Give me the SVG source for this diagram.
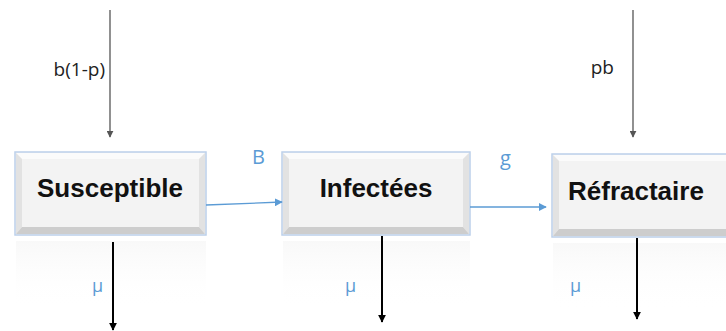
<svg xmlns="http://www.w3.org/2000/svg" width="726" height="331" viewBox="0 0 726 331">
<style>
.frame{fill:#f4f4f4;stroke:#bcd0ea;stroke-width:1.5}
.face{fill:#f3f3f3}
.bevB{fill:#cdcdcd}
.bevS{fill:#e2e2e2}
.bevT{fill:#fbfbfb}
.lbl{font-family:"Liberation Sans",Arial,sans-serif;font-weight:bold;font-size:26px;fill:#111}
.rate{font-family:"Open Sans","Liberation Sans",sans-serif;font-size:19px;fill:#222}
.blue{font-family:"Open Sans","Liberation Sans",sans-serif;font-size:20px;fill:#5b9bd5}
.mu{font-family:"Open Sans","Liberation Sans",sans-serif;font-size:18px;fill:#5b9bd5}
.refl{fill:url(#rg)}
.gray{stroke:#555;stroke-width:1.3;fill:none}
.blk{stroke:#000;stroke-width:2;fill:none}
.bl{stroke:#5b9bd5;stroke-width:1.3;fill:none}
</style>
<defs>
<linearGradient id="rg" x1="0" y1="0" x2="0" y2="1">
<stop offset="0" stop-color="#f4f4f4" stop-opacity="0.6"/>
<stop offset="1" stop-color="#ffffff" stop-opacity="0"/>
</linearGradient>
<marker id="ag" viewBox="0 0 10 10" refX="9" refY="5" markerWidth="7" markerHeight="7" markerUnits="userSpaceOnUse" orient="auto"><path d="M0,0 L10,5 L0,10 z" fill="#555"/></marker>
<marker id="ak" viewBox="0 0 10 10" refX="9" refY="5" markerWidth="8" markerHeight="8" markerUnits="userSpaceOnUse" orient="auto"><path d="M0,0 L10,5 L0,10 z" fill="#000"/></marker>
<marker id="ab" viewBox="0 0 10 10" refX="9" refY="5" markerWidth="8" markerHeight="8" markerUnits="userSpaceOnUse" orient="auto"><path d="M0,0 L10,5 L0,10 z" fill="#5b9bd5"/></marker>
</defs>

<g id="susceptible">
<rect class="refl" x="16" y="241" width="190" height="68"/>
<rect class="frame" x="15" y="152" width="191" height="83"/>
<polygon class="bevT" points="16,153 205,153 199,159 22,159"/>
<polygon class="bevS" points="16,153 22,159 22,227 16,234"/>
<polygon class="bevS" points="205,153 199,159 199,227 205,234"/>
<polygon class="bevB" points="16,234 22,227 199,227 205,234"/>
<rect class="face" x="22" y="159" width="177" height="68"/>
<text class="lbl" x="110" y="197" text-anchor="middle">Susceptible</text>
</g>

<g id="infectees">
<rect class="refl" x="283" y="241" width="187" height="68"/>
<rect class="frame" x="282" y="152" width="188" height="83"/>
<polygon class="bevT" points="283,153 469,153 463,159 289,159"/>
<polygon class="bevS" points="283,153 289,159 289,227 283,234"/>
<polygon class="bevS" points="469,153 463,159 463,227 469,234"/>
<polygon class="bevB" points="283,234 289,227 463,227 469,234"/>
<rect class="face" x="289" y="159" width="174" height="68"/>
<text class="lbl" x="376" y="197" text-anchor="middle">Infectées</text>
</g>

<g id="refractaire">
<rect class="refl" x="553" y="243" width="173" height="68"/>
<rect class="frame" x="552" y="154" width="190" height="83"/>
<polygon class="bevT" points="553,155 741,155 735,161 559,161"/>
<polygon class="bevS" points="553,155 559,161 559,229 553,236"/>
<polygon class="bevB" points="553,236 559,229 735,229 741,236"/>
<rect class="face" x="559" y="161" width="176" height="68"/>
<text class="lbl" x="568" y="200">Réfractaire</text>
</g>

<g id="connectors">
<line class="gray" x1="110" y1="10" x2="110" y2="137" marker-end="url(#ag)"/>
<line class="gray" x1="633" y1="10" x2="633" y2="137" marker-end="url(#ag)"/>
<line class="bl" x1="206" y1="205" x2="282" y2="202" marker-end="url(#ab)"/>
<line class="bl" x1="470" y1="207" x2="546" y2="207" marker-end="url(#ab)"/>
<line class="blk" x1="113" y1="242" x2="113" y2="330" marker-end="url(#ak)"/>
<line class="blk" x1="382" y1="236" x2="382" y2="322" marker-end="url(#ak)"/>
<line class="blk" x1="637" y1="238" x2="637" y2="319" marker-end="url(#ak)"/>
<text class="rate" x="105" y="76" text-anchor="end">b(1-p)</text>
<text class="rate" x="614" y="74" text-anchor="end">pb</text>
<text class="blue" x="252" y="164">B</text>
<text class="blue" x="500" y="165">g</text>
<text class="mu" x="92" y="292">μ</text>
<text class="mu" x="345" y="292">μ</text>
<text class="mu" x="570" y="292">μ</text>
</g>
</svg>
